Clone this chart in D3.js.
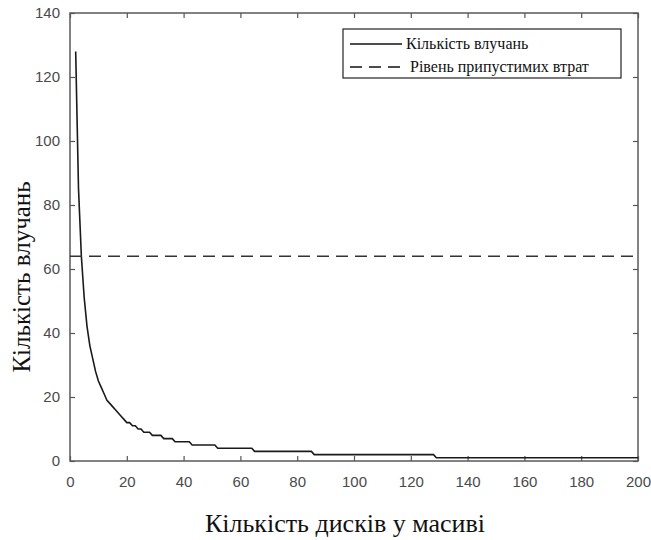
<!DOCTYPE html>
<html>
<head>
<meta charset="UTF-8">
<style>
    body { margin: 0; background: #fff; }
    .tick text { font-family: "Liberation Sans", Arial, sans-serif; font-size: 15px; fill: #4a4a4a; }
</style>
<script src="https://cdn.jsdelivr.net/npm/d3@7"></script>
</head>
<body>
<script>
    // Кількість дисків (2..200) та кількість влучань
    var disks = d3.range(2, 201);
    var hits = [
        128, 85, 64, 51, 42, 36, 32, 28, 25, 23, 21, 19, 18, 17, 16, 15, 14, 13, 12,
        12, 11, 11, 10, 10, 9, 9, 9, 8, 8, 8, 8, 7, 7, 7, 7,
        6, 6, 6, 6, 6, 6,
        5, 5, 5, 5, 5, 5, 5, 5, 5,
        4, 4, 4, 4, 4, 4, 4, 4, 4, 4, 4, 4, 4,
        3, 3, 3, 3, 3, 3, 3, 3, 3, 3, 3, 3, 3, 3, 3, 3, 3, 3, 3, 3, 3,
        2, 2, 2, 2, 2, 2, 2, 2, 2, 2, 2, 2, 2, 2, 2, 2, 2, 2, 2, 2, 2, 2,
        2, 2, 2, 2, 2, 2, 2, 2, 2, 2, 2, 2, 2, 2, 2, 2, 2, 2, 2, 2, 2,
        1, 1, 1, 1, 1, 1, 1, 1, 1, 1, 1, 1, 1, 1, 1, 1, 1, 1, 1, 1,
        1, 1, 1, 1, 1, 1, 1, 1, 1, 1, 1, 1, 1, 1, 1, 1, 1, 1, 1, 1,
        1, 1, 1, 1, 1, 1, 1, 1, 1, 1, 1, 1, 1, 1, 1, 1, 1, 1, 1, 1,
        1, 1, 1, 1, 1, 1, 1, 1, 1, 1, 1, 1
    ];
    var lossLevel = 64;
    var xTicks = [0, 20, 40, 60, 80, 100, 120, 140, 160, 180, 200];
    var yTicks = [0, 20, 40, 60, 80, 100, 120, 140];
    var legendLabels = ["Кількість влучань", "Рівень припустимих втрат"];

    var serif = "'Liberation Serif', 'Times New Roman', serif";

    var margin = {top: 13, right: 13, bottom: 79, left: 70},
        width = 651 - margin.left - margin.right,
        height = 540 - margin.top - margin.bottom;

    var svg = d3.select("body").append("svg")
        .attr("width", 651)
        .attr("height", 540);

    var g = svg.append("g")
        .attr("transform", "translate(" + margin.left + "," + margin.top + ")");

    var x = d3.scaleLinear().domain([0, 200]).range([0, width]);
    var y = d3.scaleLinear().domain([0, 140]).range([height, 0]);

    // Осі (з рисками всередину, як у MATLAB)
    function styleAxis(sel) {
        sel.select(".domain").remove();
        sel.selectAll(".tick line").attr("stroke", "#555").attr("stroke-width", 1.2);
    }
    g.append("g")
        .attr("transform", "translate(0," + height + ")")
        .call(d3.axisBottom(x).tickValues(xTicks).tickSizeInner(-5).tickSizeOuter(0).tickPadding(15))
        .call(styleAxis);
    g.append("g")
        .call(d3.axisLeft(y).tickValues(yTicks).tickSizeInner(-5).tickSizeOuter(0).tickPadding(10))
        .call(styleAxis);
    g.append("g")
        .call(d3.axisTop(x).tickValues(xTicks).tickSizeInner(-5).tickSizeOuter(0).tickFormat(""))
        .call(styleAxis);
    g.append("g")
        .attr("transform", "translate(" + width + ",0)")
        .call(d3.axisRight(y).tickValues(yTicks).tickSizeInner(-5).tickSizeOuter(0).tickFormat(""))
        .call(styleAxis);

    g.append("rect")
        .attr("width", width)
        .attr("height", height)
        .attr("fill", "none")
        .attr("stroke", "#5a5a5a")
        .attr("stroke-width", 1.5);

    // Крива влучань
    var line = d3.line()
        .x(function(d, i) { return x(disks[i]); })
        .y(function(d) { return y(d); });

    g.append("path")
        .datum(hits)
        .attr("d", line)
        .attr("fill", "none")
        .attr("stroke", "#1a1a1a")
        .attr("stroke-width", 1.6);

    // Рівень припустимих втрат
    g.append("line")
        .attr("x1", x(0)).attr("x2", x(200))
        .attr("y1", y(lossLevel)).attr("y2", y(lossLevel))
        .attr("stroke", "#333")
        .attr("stroke-width", 1.6)
        .attr("stroke-dasharray", "12,7");

    // Підписи осей
    svg.append("text")
        .attr("x", 345)
        .attr("y", 532)
        .attr("text-anchor", "middle")
        .attr("font-family", serif)
        .attr("font-size", 26)
        .attr("fill", "#111")
        .text("Кількість дисків у масиві");

    svg.append("text")
        .attr("transform", "translate(30,277) rotate(-90)")
        .attr("text-anchor", "middle")
        .attr("font-family", serif)
        .attr("font-size", 25)
        .attr("fill", "#111")
        .text("Кількість влучань");

    // Легенда
    var legend = svg.append("g");
    legend.append("rect")
        .attr("x", 343).attr("y", 29)
        .attr("width", 278).attr("height", 49)
        .attr("fill", "#fff")
        .attr("stroke", "#222")
        .attr("stroke-width", 1.2);

    var entries = legend.selectAll(".entry")
        .data(legendLabels)
        .enter().append("g")
        .attr("class", "entry")
        .attr("transform", function(d, i) { return "translate(0," + (44 + i * 23) + ")"; });

    entries.append("line")
        .attr("x1", 350).attr("x2", 402)
        .attr("stroke", "#111")
        .attr("stroke-width", 1.3)
        .attr("stroke-dasharray", function(d, i) { return i ? "12,7" : null; });

    entries.append("text")
        .attr("x", function(d, i) { return i ? 410 : 406; })
        .attr("y", 5)
        .attr("font-family", serif)
        .attr("font-size", 16)
        .attr("fill", "#111")
        .text(function(d) { return d; });
</script>
</body>
</html>
